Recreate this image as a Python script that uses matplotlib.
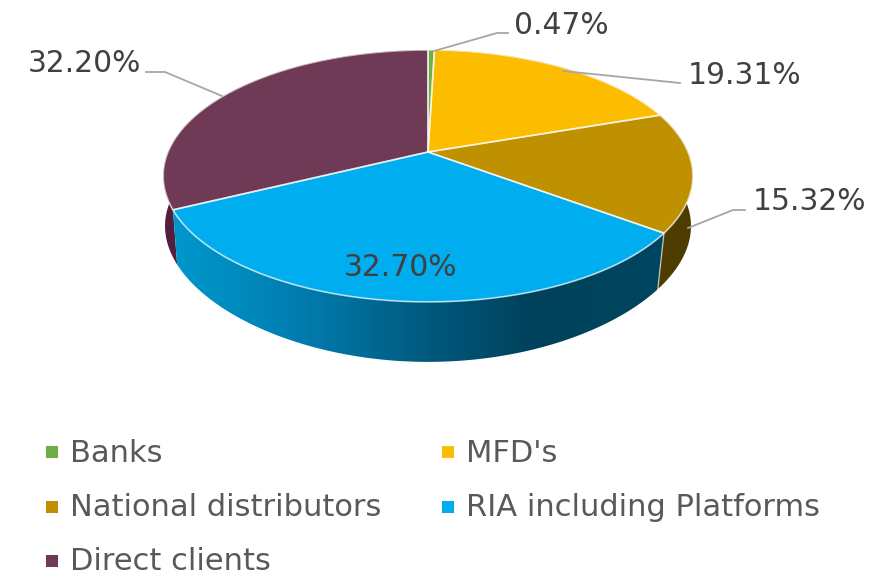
import numpy as np
import matplotlib
matplotlib.use('Agg')
import matplotlib.pyplot as plt
from matplotlib.patches import Polygon

plt.rcParams['font.family'] = ['DejaVu Sans']

categories = ['Banks', "MFD's", 'National distributors', 'RIA including Platforms', 'Direct clients']
shares = [0.47, 19.31, 15.32, 32.70, 32.20]
top_colors = ['#70AD47', '#FCBC00', '#BF9000', '#00AEEF', '#6F3A55']
wall_colors = ['#3F6228', '#7F6000', '#4E3B00', '#00AEEF', '#52203C']

# pie geometry in image pixels, k is the perspective of the tilted disc
cx, cy = 428, 152
rx, ry = 260, 121.4
k = 0.19
shrink_y = 0.977
depth = 51.4


def rim(t, lower=False):
    u, v = np.sin(t), np.cos(t)
    w = 1 + k * v
    x = rx * u / w
    y = -ry * v / w
    if lower:
        # lower rim pulls in towards the front, barely at the widest point
        shrink_x = 0.995 - 0.06 * v ** 2
        return cx + shrink_x * x, cy + shrink_y * y + depth / w
    return cx + x, cy + y


def wall(t0, t1):
    t = np.linspace(t0, t1, 120)
    x1, y1 = rim(t)
    x2, y2 = rim(t, lower=True)
    return np.column_stack([np.r_[x1, x2[::-1]], np.r_[y1, y2[::-1]]])


fig = plt.figure(figsize=(8.92, 5.78), dpi=100)
ax = fig.add_axes([0, 0, 1, 1])
ax.set_xlim(0, 892)
ax.set_ylim(578, 0)
ax.axis('off')

edges = 2 * np.pi * np.cumsum([0] + shares) / sum(shares)

# walls, the far ones first so the near slice sits on top
for i in [0, 1, 4, 2]:
    ax.add_patch(Polygon(wall(edges[i], edges[i + 1]), fc=wall_colors[i], ec='none', zorder=1))

# RIA wall has a horizontal gradient, clipped to its outline
grad_x = [173, 300, 430, 530, 665]
grad_r = [0, 0, 0, 0, 0]
grad_g = [152, 125, 88, 66, 70]
grad_b = [205, 175, 125, 92, 96]
xs = np.arange(170, 668)
strip = np.stack([np.interp(xs, grad_x, grad_r),
                  np.interp(xs, grad_x, grad_g),
                  np.interp(xs, grad_x, grad_b)], axis=-1)[None, :, :] / 255
im = ax.imshow(strip, extent=(170, 668, 370, 200), aspect='auto', zorder=2, interpolation='bilinear')
ria_wall = Polygon(wall(edges[3], edges[4]), fc='none', ec='none', transform=ax.transData)
ax.add_patch(ria_wall)
im.set_clip_path(ria_wall)
ax.set_xlim(0, 892)
ax.set_ylim(578, 0)

# seam between the RIA and National walls
sx, sy = rim(np.array([edges[3]]))
bx, by = rim(np.array([edges[3]]), lower=True)
ax.plot([sx[0], bx[0]], [sy[0], by[0]], color='white', alpha=0.6, lw=1, zorder=3)

# top faces
for i in range(len(shares)):
    t = np.linspace(edges[i], edges[i + 1], 200)
    x, y = rim(t)
    pts = np.column_stack([np.r_[cx, x], np.r_[cy, y]])
    ax.add_patch(Polygon(pts, fc=top_colors[i], ec='none', zorder=4))
for i in range(len(shares)):
    t = np.linspace(edges[i], edges[i + 1], 200)
    x, y = rim(t)
    pts = np.column_stack([np.r_[cx, x], np.r_[cy, y]])
    ax.add_patch(Polygon(pts, fc='none', ec=(1, 1, 1, 0.65), lw=1.2, zorder=5))

# leader lines
leaders = [([434, 497, 508], [51, 33, 33]),
           ([563, 680], [71, 83]),
           ([688, 733, 745], [228, 210, 210]),
           ([222, 165, 146], [96, 72, 72])]
for lx, ly in leaders:
    ax.plot(lx, ly, color='#A6A6A6', lw=1.3, zorder=6)

# data labels
label_pos = [(514, 23), (688, 72), (753, 199), (344, 265), (28, 61)]
for share, (lx, ly) in zip(shares, label_pos):
    ax.text(lx, ly, f'{share:.2f}%', fontsize=21.4, color='#404040', ha='left', va='center_baseline', zorder=7)

# legend
legend_pos = [(52, 452), (448, 452), (52, 507), (448, 507), (52, 561)]
for name, col, (lx, ly) in zip(categories, top_colors, legend_pos):
    ax.scatter([lx], [ly], marker='s', s=72, color=col, linewidths=0, zorder=7)
    ax.text(lx + 18, ly - 2, name, fontsize=22, color='#595959', ha='left', va='center_baseline', zorder=7)

fig.savefig('out.png', dpi=100)
